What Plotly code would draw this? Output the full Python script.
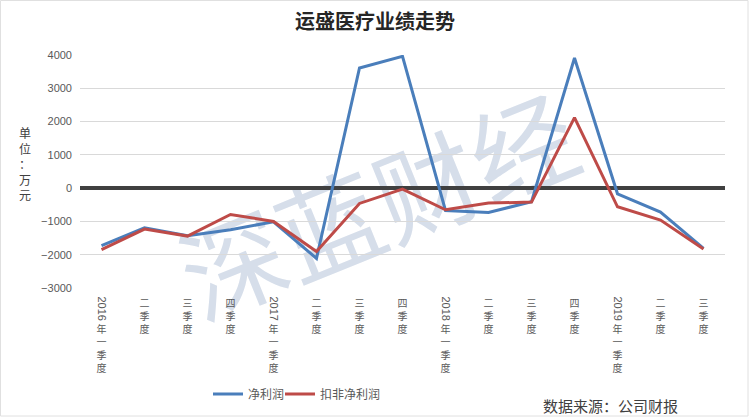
import plotly.graph_objects as go

categories = ["2016年一季度", "二季度", "三季度", "四季度",
              "2017年一季度", "二季度", "三季度", "四季度",
              "2018年一季度", "二季度", "三季度", "四季度",
              "2019年一季度", "二季度", "三季度"]
net_profit = [-1730, -1190, -1430, -1250, -1010, -2110, 3610, 3960,
              -670, -730, -410, 3910, -170, -720, -1810]
net_profit_deducted = [-1850, -1230, -1440, -790, -1000, -1900, -460, -30,
                       -650, -450, -420, 2120, -560, -960, -1830]
y_ticks = [-3000, -2000, -1000, 0, 1000, 2000, 3000, 4000]

title_text = "运盛医疗业绩走势"
unit_text = "单位：万元"
source_text = "数据来源：公司财报"
watermark_text = "深蓝财经"

BLUE = "#4a7ebb"
RED = "#be4b48"
GRAY = "#595959"
CJK = "Noto Sans CJK SC"

# tick labels: characters stacked vertically; the year part drawn rotated separately
xpos = list(range(len(categories)))
ticktext = []
years = []
for i, c in enumerate(categories):
    if "年" in c:
        yr, rest = c.split("年")
        years.append((i, yr))
        chars = ["\u00a0", "\u00a0", "年"] + list(rest)
    else:
        chars = list(c)
    ticktext.append("<br>".join(chars))

fig = go.Figure()
fig.add_trace(go.Scatter(x=xpos, y=net_profit, mode="lines", name="净利润",
                         line=dict(color=BLUE, width=3), legend="legend"))
fig.add_trace(go.Scatter(x=xpos, y=net_profit_deducted, mode="lines", name="扣非净利润",
                         line=dict(color=RED, width=3), legend="legend2"))

# plot area in pixels: x 80..725, y 55..288
W, H = 750, 418
L, R, T, B = 80, 725, 55, 288
pw, ph = R - L, B - T


def px(xp):
    return (xp - L) / pw


def py(yp):
    return (B - yp) / ph


annotations = []
for i, yr in years:
    annotations.append(dict(x=i, y=0, xref="x", yref="paper", text=yr, showarrow=False,
                            textangle=90, xanchor="center", yanchor="top", yshift=-6,
                            font=dict(family="Liberation Sans", size=11, color=GRAY)))
annotations.append(dict(x=px(25), y=py(163), xref="paper", yref="paper",
                        text="<br>".join(list(unit_text)), showarrow=False,
                        xanchor="center", yanchor="middle",
                        font=dict(family=CJK, size=12, color="#404040")))
annotations.append(dict(x=px(541), y=py(405), xref="paper", yref="paper",
                        text=source_text, showarrow=False,
                        xanchor="left", yanchor="middle",
                        font=dict(family=CJK, size=15, color="#404040")))

shapes = [
    dict(type="rect", xref="paper", yref="paper", x0=px(108), x1=px(658),
         y0=py(362), y1=py(72), line=dict(width=0), fillcolor="rgba(0,0,0,0)",
         layer="below",
         label=dict(text=watermark_text, textangle=-22, textposition="middle center",
                    font=dict(family=CJK, size=104, color="#d6deea"))),
    dict(type="rect", xref="paper", yref="paper", x0=px(0.5), x1=px(748),
         y0=py(416), y1=py(0.5), line=dict(width=1, color="#e0e0e0"),
         fillcolor="rgba(0,0,0,0)", layer="below"),
]

legend_common = dict(orientation="h", xref="container", yref="container",
                     y=1 - 394 / H, xanchor="left", yanchor="middle",
                     font=dict(family=CJK, size=12, color=GRAY),
                     bgcolor="rgba(0,0,0,0)", itemwidth=30)

fig.update_layout(
    width=W, height=H,
    margin=dict(l=L, r=W - R, t=T, b=H - B, autoexpand=False),
    paper_bgcolor="white", plot_bgcolor="rgba(0,0,0,0)",
    title=dict(text="<b>" + title_text + "</b>", x=375 / W, xref="container", xanchor="center",
               y=1 - 22 / H, yref="container", yanchor="middle",
               font=dict(family=CJK, size=20, color="#262626")),
    xaxis=dict(tickmode="array", tickvals=xpos, ticktext=ticktext, range=[-0.5, 14.5],
               showgrid=False, zeroline=False, showline=False, ticks="",
               tickangle=0, tickfont=dict(family=CJK, size=10, color=GRAY),
               ticklabelstandoff=8, automargin=False, fixedrange=True),
    yaxis=dict(range=[-3000, 4000], tickvals=y_ticks, showgrid=True, gridcolor="#d9d9d9",
               gridwidth=1, zeroline=True, zerolinecolor="#404040", zerolinewidth=4,
               ticks="", tickfont=dict(family="Liberation Sans", size=11, color=GRAY),
               ticklabelstandoff=7, automargin=False, fixedrange=True),
    showlegend=True,
    legend=dict(x=208 / W, **legend_common),
    legend2=dict(x=280 / W, **legend_common),
    annotations=annotations,
    shapes=shapes,
)

fig.write_html("out.html", config={"displayModeBar": False},
               post_script="document.body.style.margin='0';")
